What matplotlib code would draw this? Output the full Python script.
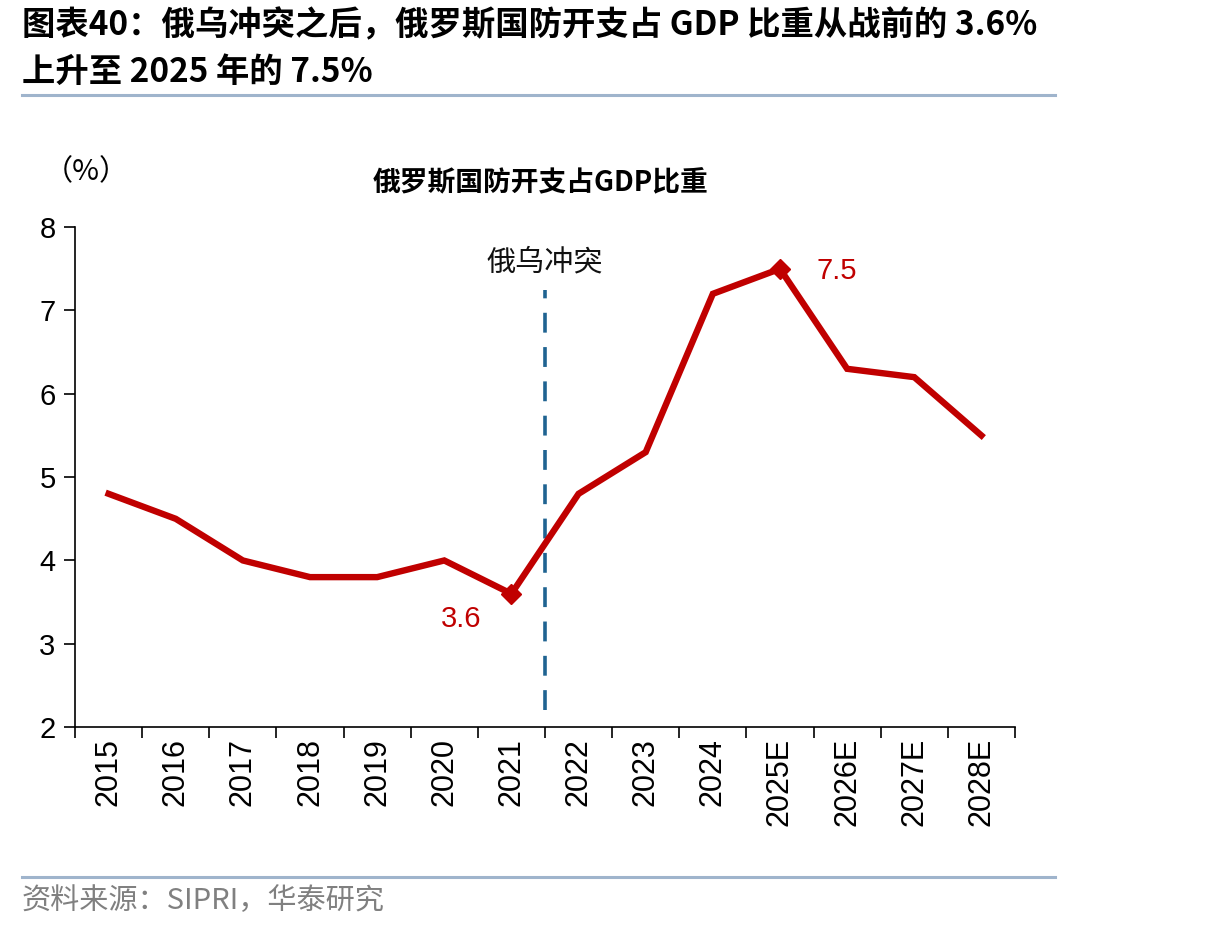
import numpy as np
import matplotlib
matplotlib.use('Agg')
import matplotlib.pyplot as plt
from matplotlib.lines import Line2D

plt.rcParams['font.family'] = ['Liberation Sans', 'Noto Sans CJK SC', 'DejaVu Sans']

# 数据
years = ['2015', '2016', '2017', '2018', '2019', '2020', '2021',
         '2022', '2023', '2024', '2025E', '2026E', '2027E', '2028E']
share = [4.8, 4.5, 4.0, 3.8, 3.8, 4.0, 3.6, 4.8, 5.3, 7.2, 7.5, 6.3, 6.2, 5.5]
marked = {'2021': '3.6', '2025E': '7.5'}
event_label = '俄乌冲突'
event_after = '2021'

title = '图表40：俄乌冲突之后，俄罗斯国防开支占 GDP 比重从战前的 3.6%\n上升至 2025 年的 7.5%'
chart_title = '俄罗斯国防开支占GDP比重'
source = '资料来源：SIPRI，华泰研究'

red = '#C00000'
dash_col = '#1F6391'
rule_col = '#9FB4CC'
cjk = ['Noto Sans CJK SC', 'Liberation Sans']
lat = ['Liberation Sans', 'Noto Sans CJK SC']

fig = plt.figure(figsize=(12.06, 9.31), dpi=100)
ax = fig.add_axes([0.0622, 0.219, 0.7794, 0.537])

x = np.arange(len(years))
ax.plot(x, share, color=red, lw=4.6, solid_joinstyle='miter', zorder=3)
for k, lab in marked.items():
    i = years.index(k)
    ax.plot(x[i], share[i], marker='D', ms=10, color=red, zorder=4)
    if k == '2021':
        ax.text(x[i] - 0.45, share[i] - 0.3, lab, color=red, fontsize=21,
                ha='right', va='center', family=lat)
    else:
        ax.text(x[i] + 0.55, share[i] - 0.03, lab, color=red, fontsize=21,
                ha='left', va='center', family=lat)

# 事件线
ev = years.index(event_after) + 0.5
ax.plot([ev, ev], [2.2, 7.25], color=dash_col, lw=2.6, ls=(0, (5.5, 4)), zorder=2)
ax.text(ev, 7.58, event_label, fontsize=21, ha='center', va='center',
        family=cjk, color='#111111')

ax.set_xlim(-0.5, len(years) - 0.5)
ax.set_ylim(2, 8)
ax.set_yticks(range(2, 9))
ax.set_xticks(x)
ax.set_xticklabels(years, rotation=90, fontsize=22, family=lat)
ax.tick_params(axis='x', length=0, pad=8)
ax.set_xticks(np.arange(-0.5, len(years), 1), minor=True)
ax.tick_params(axis='x', which='minor', length=8, width=1.2, direction='out')
ax.tick_params(axis='y', length=8, width=1.2, direction='out', labelsize=21, pad=6)
for lab in ax.get_yticklabels():
    lab.set_family(lat)
for s in ['top', 'right']:
    ax.spines[s].set_visible(False)
for s in ['left', 'bottom']:
    ax.spines[s].set_linewidth(1.2)

# 标题与注释
fig.text(0.018, 0.99, title, fontsize=24, fontweight='bold', va='top',
         ha='left', family=cjk, linespacing=1.5)
fig.add_artist(Line2D([0.018, 0.875], [0.898, 0.898], color=rule_col, lw=2.2))
fig.text(0.448, 0.803, chart_title, fontsize=20, fontweight='bold',
         ha='center', va='center', family=cjk)
fig.text(0.036, 0.815, '（%）', fontsize=21, ha='left', va='center', family=cjk)
fig.add_artist(Line2D([0.018, 0.875], [0.058, 0.058], color=rule_col, lw=2.2))
fig.text(0.018, 0.032, source, fontsize=21, color='#808080', ha='left',
         va='center', family=cjk)

fig.savefig('out.png', dpi=100)
